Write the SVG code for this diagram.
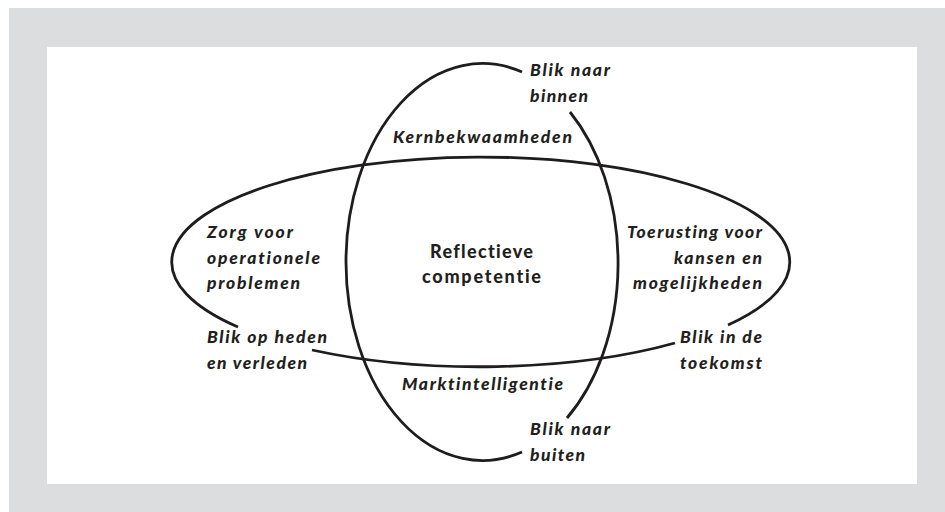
<svg xmlns="http://www.w3.org/2000/svg" width="945" height="512" viewBox="0 0 945 512">
<style>
.arc{fill:none;stroke:#1f1c1d;stroke-width:2.8;stroke-linecap:butt}
.t{font-family:Lato,"Open Sans","Liberation Sans",sans-serif;font-size:17.5px;font-style:italic;font-weight:900;fill:#231f20;font-variant-ligatures:none}
.c{font-family:Lato,"Open Sans","Liberation Sans",sans-serif;font-size:18px;font-weight:900;fill:#231f20;text-anchor:middle;font-variant-ligatures:none}
.r{text-anchor:end}
</style>
<rect x="0" y="0" width="945" height="512" fill="#ffffff"/>
<rect x="9" y="8" width="936" height="504" fill="#dcdddf"/>
<rect x="47" y="47" width="870" height="437" fill="#ffffff"/>
<g id="connectors">
<path class="arc" d="M570,112 A136.5,198.5 0 0 1 567,418"/>
<path class="arc" d="M522,452 A136.5,198.5 0 1 1 522,72"/>
<path class="arc" d="M675,343 A309,105 0 0 1 312,350"/>
<path class="arc" d="M238,327 A309,105 0 1 1 728,325"/>
</g>
<g id="center">
<text class="c" x="481.5" y="258" textLength="103" lengthAdjust="spacing">Reflectieve</text>
<text class="c" x="481.5" y="283" textLength="119" lengthAdjust="spacing">competentie</text>
</g>
<g id="blik-binnen">
<text class="t" x="530" y="76" textLength="80" lengthAdjust="spacing">Blik naar</text>
<text class="t" x="530" y="102" textLength="58" lengthAdjust="spacing">binnen</text>
</g>
<g id="kernbekwaamheden">
<text class="t" x="393" y="143" textLength="179" lengthAdjust="spacing">Kernbekwaamheden</text>
</g>
<g id="zorg">
<text class="t" x="207" y="238" textLength="86" lengthAdjust="spacing">Zorg voor</text>
<text class="t" x="207" y="264" textLength="113" lengthAdjust="spacing">operationele</text>
<text class="t" x="207" y="289" textLength="93" lengthAdjust="spacing">problemen</text>
</g>
<g id="blik-heden">
<text class="t" x="207" y="343" textLength="120" lengthAdjust="spacing">Blik op heden</text>
<text class="t" x="207" y="369" textLength="100" lengthAdjust="spacing">en verleden</text>
</g>
<g id="toerusting">
<text class="t r" x="762" y="238" textLength="135" lengthAdjust="spacing">Toerusting voor</text>
<text class="t r" x="762" y="264" textLength="88" lengthAdjust="spacing">kansen en</text>
<text class="t r" x="762" y="289" textLength="129" lengthAdjust="spacing">mogelijkheden</text>
</g>
<g id="blik-toekomst">
<text class="t r" x="762" y="343" textLength="82" lengthAdjust="spacing">Blik in de</text>
<text class="t r" x="762" y="369" textLength="82" lengthAdjust="spacing">toekomst</text>
</g>
<g id="marktintelligentie">
<text class="t" x="402" y="390" textLength="161" lengthAdjust="spacing">Marktintelligentie</text>
</g>
<g id="blik-buiten">
<text class="t" x="530" y="435" textLength="80" lengthAdjust="spacing">Blik naar</text>
<text class="t" x="530" y="461" textLength="55" lengthAdjust="spacing">buiten</text>
</g>
</svg>
